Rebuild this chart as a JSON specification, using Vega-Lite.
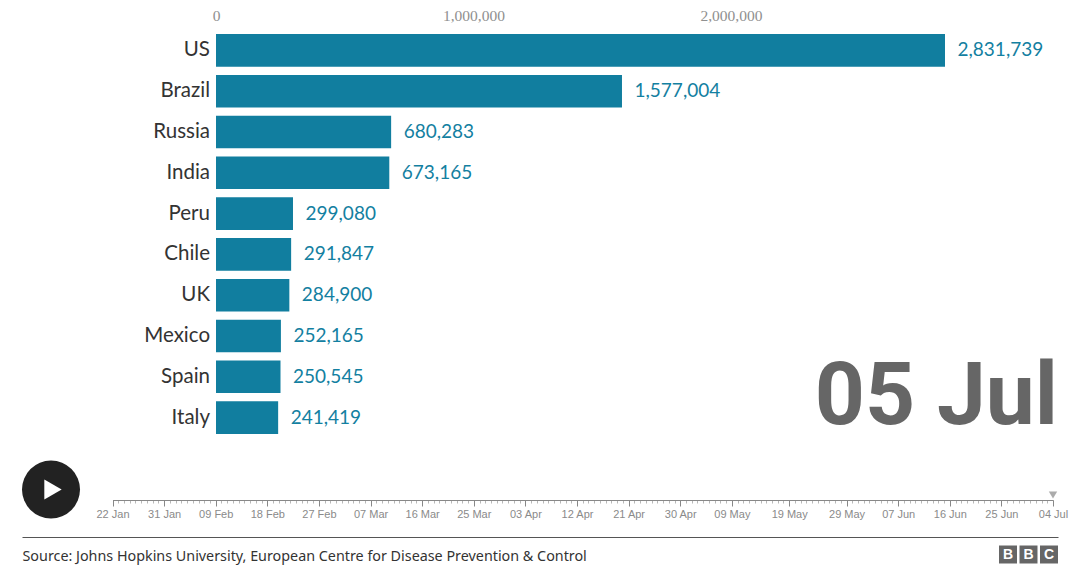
{
"$schema":"https://vega.github.io/schema/vega-lite/v6.json",
"width":1086,"height":565,"padding":0,"autosize":{"type":"none"},
"background":"white",
"view":{"stroke":null},
"datasets":{
"cases":[
{"country":"US","cases":2831739},
{"country":"Brazil","cases":1577004},
{"country":"Russia","cases":680283},
{"country":"India","cases":673165},
{"country":"Peru","cases":299080},
{"country":"Chile","cases":291847},
{"country":"UK","cases":284900},
{"country":"Mexico","cases":252165},
{"country":"Spain","cases":250545},
{"country":"Italy","cases":241419}],
"current":[{"date":"2020-07-04","label":"05 Jul"}],
"logo":[{"id":"b1","letter":"B"},{"id":"b2","letter":"B"},{"id":"c","letter":"C"}]
},
"layer":[
{"data":{"name":"cases"},
 "encoding":{
  "x":{"field":"cases","type":"quantitative","title":null,
    "scale":{"domain":[0,2831739],"range":[216,945],"nice":false,"zero":true},
    "axis":{"orient":"top","offset":-24,"values":[0,1000000,2000000],"domain":false,"ticks":false,"grid":false,"labelPadding":1,"labelFont":"Liberation Serif","labelFontSize":15.5,"labelColor":"#909090","labelFlush":false,"labelExpr":"format(datum.value,',')"}},
  "y":{"field":"country","type":"nominal","title":null,"sort":null,
    "scale":{"domain":["US","Brazil","Russia","India","Peru","Chile","UK","Mexico","Spain","Italy"],"range":[30,438],"paddingInner":0.2,"paddingOuter":0.1},
    "axis":null}},
 "layer":[
  {"mark":{"type":"bar","color":"#117E9F"}},
  {"mark":{"type":"text","align":"left","baseline":"middle","dx":12.5,"font":"Lato","fontSize":19,"color":"#1380A1"},
   "encoding":{"text":{"field":"cases","type":"quantitative","format":","}}},
  {"mark":{"type":"text","align":"right","baseline":"middle","dx":-6,"font":"Lato","fontSize":20.5,"color":"#333333"},
   "encoding":{"x":{"datum":0},"text":{"field":"country"}}}
 ]},
{"data":{"name":"current"},
 "mark":{"type":"text","align":"right","baseline":"middle","font":"Roboto","fontWeight":"bold","fontSize":87.5,"color":"#666666"},
 "encoding":{"x":{"value":1058},"y":{"value":398},"text":{"field":"label"}}},
{"data":{"name":"current"},
 "mark":{"type":"rule","opacity":0},
 "encoding":{
  "x":{"field":"date","type":"temporal","title":null,
    "scale":{"type":"utc","domain":["2020-01-22","2020-07-04"],"range":[112.5,1053]},
    "axis":{"orient":"bottom","offset":-65,"grid":false,"labels":false,"domain":true,"domainColor":"#888888","tickColor":"#999999","tickSize":3,"tickWidth":0.7,"tickCount":{"interval":"day","step":1}}}}},
{"data":{"name":"current"},
 "encoding":{
  "x":{"field":"date","type":"temporal","title":null,
    "scale":{"type":"utc","domain":["2020-01-22","2020-07-04"],"range":[112.5,1053]},
    "axis":{"orient":"bottom","offset":-65,"grid":false,"domain":false,"tickColor":"#888888","tickSize":6,"labelPadding":2,"labelFont":"Liberation Sans","labelFontSize":11,"labelColor":"#8a8a8a","labelFlush":false,"labelOverlap":false,
     "values":["2020-01-22","2020-01-31","2020-02-09","2020-02-18","2020-02-27","2020-03-07","2020-03-16","2020-03-25","2020-04-03","2020-04-12","2020-04-21","2020-04-30","2020-05-09","2020-05-19","2020-05-29","2020-06-07","2020-06-16","2020-06-25","2020-07-04"],
     "labelExpr":"utcFormat(datum.value,'%d %b')"}}},
 "layer":[{"mark":{"type":"point","shape":"triangle-down","filled":true,"size":70,"color":"#888888"},
   "encoding":{"y":{"value":495}}}]},
{"data":{"name":"current"},
 "mark":{"type":"rule","opacity":0},
 "encoding":{
  "x":{"datum":0,"type":"quantitative",
    "scale":{"domain":[0,1],"range":[22,1058],"nice":false},
    "axis":{"title":"Source: Johns Hopkins University, European Centre for Disease Prevention & Control","orient":"bottom","offset":-28,"grid":false,"labels":false,"ticks":false,"domain":true,"domainColor":"#555555","domainWidth":1,
     "titleAnchor":"start","titleAlign":"left","titleBaseline":"top","titleFont":"Noto Sans","titleFontSize":14.33,"titleFontWeight":"normal","titleColor":"#333333","titlePadding":12.5}}}},
{"data":{"name":"current"},
 "mark":{"type":"point","shape":"circle","filled":true,"size":3364,"color":"#222222","opacity":1},
 "encoding":{"x":{"value":51},"y":{"value":489.5}}},
{"data":{"name":"current"},
 "mark":{"type":"point","shape":"triangle-right","filled":true,"size":400,"color":"#ffffff","opacity":1},
 "encoding":{"x":{"value":53},"y":{"value":489.5}}},
{"data":{"name":"logo"},
 "encoding":{
  "x":{"field":"id","type":"nominal","axis":null,"sort":null,"scale":{"type":"point","domain":["b1","b2","c"],"range":[1008,1049],"padding":0}},
  "y":{"datum":0,"type":"quantitative","axis":null,"scale":{"domain":[0,1],"range":[554.5,553.5]}}},
 "layer":[
  {"mark":{"type":"point","shape":"square","filled":true,"size":324,"strokeWidth":0,"color":"#666666","opacity":1}},
  {"mark":{"type":"text","font":"Liberation Sans","fontWeight":"bold","fontSize":14,"color":"#ffffff","baseline":"middle"},
   "encoding":{"text":{"field":"letter"}}}
 ]}
],
"resolve":{"scale":{"x":"independent","y":"independent"},"axis":{"x":"independent","y":"independent"}}
}
